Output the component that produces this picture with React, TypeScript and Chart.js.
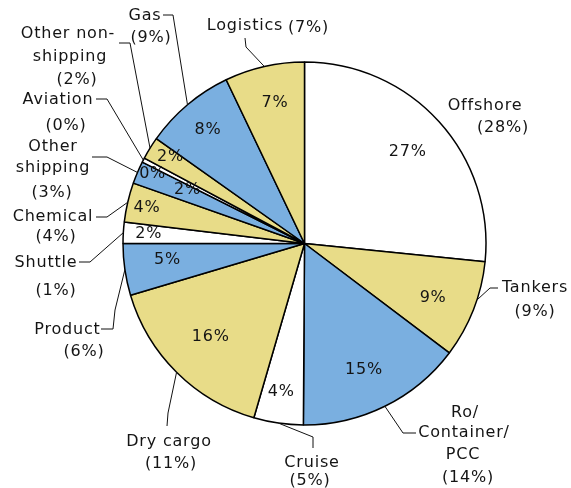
import React, { useEffect, useRef } from 'react';
import { Chart, registerables } from 'chart.js';

Chart.register(...registerables);

// ---- data ----
const categories = [
  'Offshore', 'Tankers', 'Ro/Container/PCC', 'Cruise', 'Dry cargo', 'Product', 'Shuttle',
  'Chemical', 'Other shipping', 'Aviation', 'Other non-shipping', 'Gas', 'Logistics',
];
const shares = [26.6, 8.7, 14.8, 4.4, 15.9, 4.6, 1.9, 3.5, 2.0, 0.4, 2.0, 8.1, 7.1];
const priorShares = [28, 9, 14, 5, 11, 6, 1, 4, 3, 0, 2, 9, 7];
const categoryLines = [
  ['Offshore'], ['Tankers'], ['Ro/', 'Container/', 'PCC'], ['Cruise'], ['Dry cargo'], ['Product'],
  ['Shuttle'], ['Chemical'], ['Other', 'shipping'], ['Aviation'], ['Other non-', 'shipping'], ['Gas'], ['Logistics'],
];

// ---- styles ----
const WHITE = '#ffffff';
const YELLOW = '#E8DC88';
const BLUE = '#7AAFE0';
const sliceColors = [WHITE, YELLOW, BLUE, WHITE, YELLOW, BLUE, WHITE, YELLOW, BLUE, WHITE, YELLOW, BLUE, YELLOW];

// inner label placement: [radius fraction, angle offset in degrees]
const innerPlacement: [number, number][] = [
  [0.76, 0.6], [0.77, 1.6], [0.77, 1.1], [0.83, 0.6], [0.73, 0.2], [0.76, 1.4], [0.86, 0.1],
  [0.89, -0.4], [0.71, 1.7], [0.92, -2.8], [0.88, 1.3], [0.82, -0.3], [0.79, 0.9],
];

// outside label placement (canvas px): line centres, leader path (ends at slice edge), anchor angle offset (deg)
type Outer = { lines: [number, number][]; leader: [number, number][]; anchorOff?: number };
const outerPlacement: Outer[] = [
  { lines: [[485, 106], [503, 128]], leader: [] },
  { lines: [[535, 288], [535, 312]], leader: [[498, 288], [490, 288]], anchorOff: -3.3 },
  { lines: [[465, 413], [464, 433], [463, 455], [468, 478]], leader: [[416, 433], [403, 433]] },
  { lines: [[312, 463], [310, 481]], leader: [[313, 448], [313, 437]] },
  { lines: [[169, 442], [171, 464]], leader: [[167, 426], [168, 413]] },
  { lines: [[67.5, 330], [84, 352]], leader: [[101, 329], [113, 329], [115, 310]] },
  { lines: [[46, 263], [56, 291]], leader: [[79, 262], [90, 262]] },
  { lines: [[53, 217], [56, 237]], leader: [[96, 217], [107, 217]] },
  { lines: [[53, 147], [53, 168], [52, 193]], leader: [[92, 157], [107, 157]] },
  { lines: [[58, 100], [66, 126]], leader: [[96, 99], [107, 99]] },
  { lines: [[68, 34], [70, 57], [77, 80]], leader: [[119, 43], [130, 43]] },
  { lines: [[145, 16], [151, 38]], leader: [[163, 15], [173, 15]] },
  { lines: [[245, 26], [308.5, 28]], leader: [[245, 38], [246, 47]] },
];

const FONT = '16px "DejaVu Sans", Verdana, sans-serif';

const labelPlugin = {
  id: 'pieLabels',
  afterDatasetsDraw(chart: any) {
    const ctx = chart.ctx as CanvasRenderingContext2D;
    const meta = chart.getDatasetMeta(0);
    ctx.save();
    ctx.font = FONT;
    (ctx as any).letterSpacing = '0.8px';
    ctx.fillStyle = '#141414';
    ctx.strokeStyle = '#111';
    ctx.lineWidth = 1;
    ctx.textAlign = 'center';
    ctx.textBaseline = 'middle';
    meta.data.forEach((arc: any, i: number) => {
      const { x, y, startAngle, endAngle, outerRadius } = arc.getProps(
        ['x', 'y', 'startAngle', 'endAngle', 'outerRadius'], true);
      const mid = (startAngle + endAngle) / 2;
      const [rf, off] = innerPlacement[i];
      const a = mid + (off * Math.PI) / 180;
      ctx.fillText(`${Math.round(shares[i])}%`, x + Math.cos(a) * outerRadius * rf, y + Math.sin(a) * outerRadius * rf);

      const p = outerPlacement[i];
      if (p.leader.length) {
        const an = mid + ((p.anchorOff || 0) * Math.PI) / 180;
        ctx.beginPath();
        ctx.moveTo(p.leader[0][0], p.leader[0][1]);
        for (let k = 1; k < p.leader.length; k++) ctx.lineTo(p.leader[k][0], p.leader[k][1]);
        ctx.lineTo(x + Math.cos(an) * outerRadius, y + Math.sin(an) * outerRadius);
        ctx.stroke();
      }
      const texts = [...categoryLines[i], `(${priorShares[i]}%)`];
      texts.forEach((t, j) => {
        const pos = p.lines[j];
        if (pos) ctx.fillText(t, pos[0], pos[1]);
      });
    });
    ctx.restore();
  },
};

export default function App() {
  const ref = useRef<HTMLCanvasElement>(null);
  useEffect(() => {
    if (!ref.current) return;
    const chart = new Chart(ref.current, {
      type: 'pie',
      data: {
        labels: categories,
        datasets: [{
          data: shares,
          backgroundColor: sliceColors,
          borderColor: '#000000',
          borderWidth: 1.5,
        }],
      },
      options: {
        responsive: false,
        devicePixelRatio: 1,
        animation: false,
        radius: 181.5,
        layout: { padding: { left: 38, right: 0, top: 0, bottom: 1 } },
        plugins: { legend: { display: false }, tooltip: { enabled: false } },
      } as any,
      plugins: [labelPlugin],
    });
    return () => chart.destroy();
  }, []);
  return (
    <div style={{ position: 'fixed', left: 0, top: 0, width: 571, height: 488, background: '#fff' }}>
      <canvas ref={ref} width={571} height={488} style={{ display: 'block' }} />
    </div>
  );
}
